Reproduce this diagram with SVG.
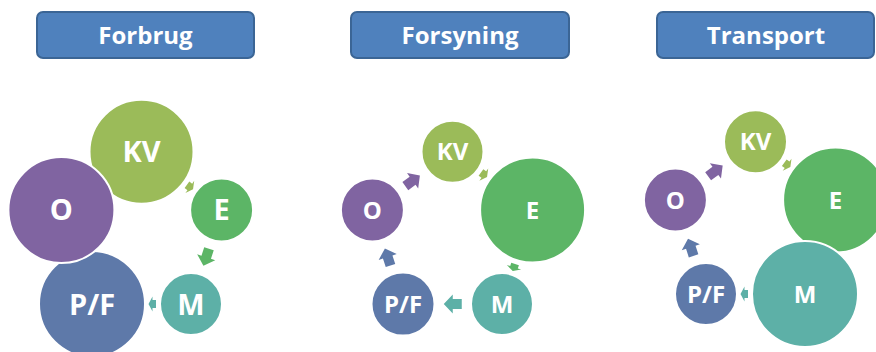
<svg xmlns="http://www.w3.org/2000/svg" xmlns:xlink="http://www.w3.org/1999/xlink" width="876" height="352" viewBox="0 0 876 352">
  <style>
    .hdr rect { fill: #4F81BD; stroke: #3B6595; stroke-width: 2; }
    .hdr text { fill: #FFFFFF; font-family: "Open Sans", "Liberation Sans", sans-serif; font-weight: 700; font-size: 24px; text-anchor: middle; }
    .node circle { stroke: #FFFFFF; stroke-width: 2; }
    .node text { fill: #FFFFFF; font-family: "Open Sans", "Liberation Sans", sans-serif; font-weight: 700; text-anchor: middle; }
    .big text { font-size: 29px; }
    .sm text { font-size: 24px; }
    .kv { fill: #9BBB59; }
    .e { fill: #5CB566; }
    .m { fill: #5DB0A7; }
    .pf { fill: #5E79A9; }
    .o { fill: #8064A1; }
  </style>
  <defs>
    <!-- block arrow pointing along +x, centred on the origin -->
    <polygon id="arrowFull" points="-9,-5 0,-5 0,-9.5 9,0 0,9.5 0,5 -9,5"/>
    <!-- compact arrow for narrow gaps -->
    <polygon id="arrowSmall" points="-3.5,-4 0,-4 0,-7.5 4,0 0,7.5 0,4 -3.5,4"/>
  </defs>

  <!-- headers -->
  <g id="hdr-forbrug" class="hdr">
    <rect x="37" y="12" width="217" height="46" rx="6"/>
    <text x="145.5" y="44">Forbrug</text>
  </g>
  <g id="hdr-forsyning" class="hdr">
    <rect x="351" y="12" width="218" height="46" rx="6"/>
    <text x="460" y="44">Forsyning</text>
  </g>
  <g id="hdr-transport" class="hdr">
    <rect x="657" y="12" width="217" height="46" rx="6"/>
    <text x="766" y="44">Transport</text>
  </g>

  <!-- cycle arrows -->
  <g id="connectors">
    <!-- Forbrug -->
    <use xlink:href="#arrowSmall" class="kv" transform="translate(189.8,186.9) rotate(36)"/>
    <use xlink:href="#arrowFull" class="e" transform="translate(206.2,257.3) rotate(108)"/>
    <use xlink:href="#arrowSmall" class="m" transform="translate(152.5,304.1) rotate(180)"/>
    <!-- Forsyning -->
    <use xlink:href="#arrowSmall" class="kv" transform="translate(483.8,174.6) rotate(36)"/>
    <use xlink:href="#arrowSmall" class="e" transform="translate(514,267.3) rotate(108)"/>
    <use xlink:href="#arrowFull" class="m" transform="translate(452.75,304.1) rotate(180)"/>
    <use xlink:href="#arrowFull" class="pf" transform="translate(387.7,257) rotate(252)"/>
    <use xlink:href="#arrowFull" class="o" transform="translate(412.6,180.8) rotate(324)"/>
    <!-- Transport -->
    <use xlink:href="#arrowSmall" class="kv" transform="translate(787.1,164.7) rotate(36)"/>
    <use xlink:href="#arrowSmall" class="m" transform="translate(744.5,294.1) rotate(180)"/>
    <use xlink:href="#arrowFull" class="pf" transform="translate(690.8,247.3) rotate(252)"/>
    <use xlink:href="#arrowFull" class="o" transform="translate(715.4,170.9) rotate(324)"/>
  </g>

  <!-- Forbrug cycle -->
  <g id="forbrug-kv" class="node big"><circle class="kv" cx="141.5" cy="151.8" r="52"/><text x="141.5" y="162.2">KV</text></g>
  <g id="forbrug-e" class="node big"><circle class="e" cx="221.6" cy="210" r="31.5"/><text x="221.6" y="220.4">E</text></g>
  <g id="forbrug-m" class="node big"><circle class="m" cx="191" cy="304.1" r="31"/><text x="191" y="314.5">M</text></g>
  <g id="forbrug-pf" class="node big"><circle class="pf" cx="92" cy="304.1" r="53"/><text x="92" y="314.5">P/F</text></g>
  <g id="forbrug-o" class="node big"><circle class="o" cx="61.4" cy="210" r="53"/><text x="61.4" y="220.4">O</text></g>

  <!-- Forsyning cycle -->
  <g id="forsyning-kv" class="node sm"><circle class="kv" cx="452.5" cy="151.8" r="31"/><text x="452.5" y="160.4">KV</text></g>
  <g id="forsyning-e" class="node sm"><circle class="e" cx="532.6" cy="210" r="52.5"/><text x="532.6" y="218.6">E</text></g>
  <g id="forsyning-m" class="node sm"><circle class="m" cx="502" cy="304.1" r="31"/><text x="502" y="312.7">M</text></g>
  <g id="forsyning-pf" class="node sm"><circle class="pf" cx="403" cy="304.1" r="31.5"/><text x="403" y="312.7">P/F</text></g>
  <g id="forsyning-o" class="node sm"><circle class="o" cx="372.4" cy="210" r="31.5"/><text x="372.4" y="218.6">O</text></g>

  <!-- Transport cycle -->
  <g id="transport-kv" class="node sm"><circle class="kv" cx="755.5" cy="141.8" r="31.5"/><text x="755.5" y="150.4">KV</text></g>
  <g id="transport-e" class="node sm"><circle class="e" cx="835.6" cy="200" r="52.5"/><text x="835.6" y="208.6">E</text></g>
  <g id="transport-m" class="node sm"><circle class="m" cx="805" cy="294.1" r="53"/><text x="805" y="302.7">M</text></g>
  <g id="transport-pf" class="node sm"><circle class="pf" cx="706" cy="294.1" r="31"/><text x="706" y="302.7">P/F</text></g>
  <g id="transport-o" class="node sm"><circle class="o" cx="675.4" cy="200" r="31.5"/><text x="675.4" y="208.6">O</text></g>
</svg>
